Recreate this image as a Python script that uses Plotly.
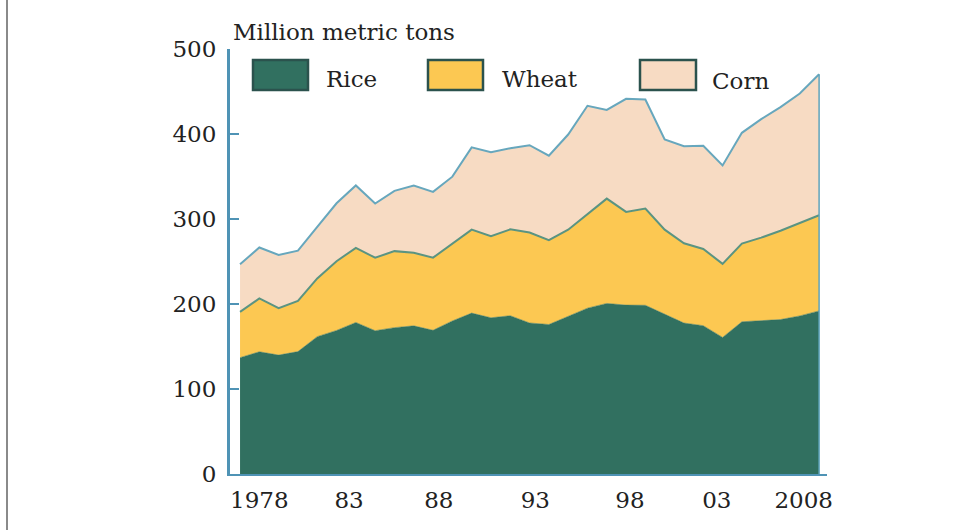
import plotly.graph_objects as go

# China grain output, million metric tons
YEARS = list(range(1978, 2009))
RICE = [136.9, 143.8, 139.9, 144.0, 161.6, 168.9, 178.3, 168.6, 172.2, 174.3,
        169.1, 180.1, 189.3, 183.8, 186.2, 177.7, 175.9, 185.2, 195.1, 200.7,
        198.7, 198.5, 187.9, 177.6, 174.5, 160.7, 179.1, 180.6, 181.7, 186.0, 191.9]
WHEAT = [53.8, 62.7, 55.2, 59.6, 68.5, 81.4, 87.8, 85.8, 90.0, 85.9,
         85.4, 90.8, 98.2, 96.0, 101.6, 106.4, 99.3, 102.2, 110.6, 123.3,
         109.7, 113.9, 99.6, 93.9, 90.3, 86.5, 92.0, 97.5, 104.5, 109.3, 112.5]
CORN = [56.0, 60.0, 62.6, 59.2, 60.6, 68.2, 73.4, 63.8, 70.9, 79.2,
        77.4, 78.9, 96.8, 98.8, 95.4, 102.7, 99.3, 112.0, 127.5, 104.3,
        133.0, 128.1, 106.0, 114.1, 121.3, 115.8, 130.3, 139.4, 145.5, 152.3, 165.9]

SERIES = ["Rice", "Wheat", "Corn"]
Y_TICKS = [0, 100, 200, 300, 400, 500]
X_TICKTEXT = ["1978", "83", "88", "93", "98", "03", "2008"]
UNIT_LABEL = "Million metric tons"

FILLS = {"Rice": "#317060", "Wheat": "#fcc852", "Corn": "#f7dbc3"}
EDGES = {"Rice": "#317060", "Wheat": "#5a9482", "Corn": "#67a7bd"}
AXIS_BLUE = "#4f93b5"
FONT = "DejaVu Serif"
TEXT = "#222222"

W, H = 974, 530
ML, MR, MT, MB = 230, 147, 49, 56
PW, PH = W - ML - MR, H - MT - MB


def px_x(px):
    return (px - ML) / PW


def px_y(py):
    return 1 - (py - MT) / PH


fig = go.Figure()
for name, vals in zip(SERIES, [RICE, WHEAT, CORN]):
    fig.add_trace(go.Scatter(
        x=YEARS, y=vals, name=name, mode="lines",
        stackgroup="grain", fillcolor=FILLS[name],
        line=dict(color=EDGES[name], width=2 if name != "Rice" else 0.5),
        showlegend=False,
    ))

# closing edge at the last year
total_last = RICE[-1] + WHEAT[-1] + CORN[-1]
fig.add_trace(go.Scatter(
    x=[YEARS[-1], YEARS[-1]], y=[0, total_last], mode="lines",
    line=dict(color="#5fa3ba", width=1.5), showlegend=False, hoverinfo="skip",
))

# legend drawn as boxed swatches with labels
shapes = []
annotations = []
legend_items = [("Rice", 253, 308, 324, 79), ("Wheat", 428, 483, 500, 79),
                ("Corn", 640, 696, 710, 81)]
for name, x0, x1, tx, ty in legend_items:
    shapes.append(dict(type="rect", xref="paper", yref="paper",
                       x0=px_x(x0), x1=px_x(x1), y0=px_y(90), y1=px_y(60),
                       fillcolor=FILLS[name], line=dict(color="#2b524d", width=2.5)))
    annotations.append(dict(text=name, xref="paper", yref="paper",
                            x=px_x(tx), y=px_y(ty), xanchor="left", yanchor="middle",
                            showarrow=False, font=dict(family=FONT, size=23, color=TEXT)))

annotations.append(dict(text=UNIT_LABEL, xref="paper", yref="paper",
                        x=px_x(231), y=px_y(32), xanchor="left", yanchor="middle",
                        showarrow=False, font=dict(family=FONT, size=23, color=TEXT)))

# page rule on the left
shapes.append(dict(type="line", xref="paper", yref="paper",
                   x0=px_x(7), x1=px_x(7), y0=px_y(H), y1=px_y(0),
                   line=dict(color="#8a8a8a", width=2)))

fig.update_layout(
    width=W, height=H,
    margin=dict(l=ML, r=MR, t=MT, b=MB, pad=0),
    paper_bgcolor="white", plot_bgcolor="white",
    shapes=shapes, annotations=annotations,
    font=dict(family=FONT, size=23, color=TEXT),
    xaxis=dict(
        range=[1977.48, 2008.41], showgrid=False, zeroline=False,
        showline=True, linecolor=AXIS_BLUE, linewidth=2,
        ticks="", tickvals=[1979.0, 1983.65, 1988.3, 1993.3, 1998.2, 2002.7, 2007.2],
        ticktext=X_TICKTEXT, ticklabelstandoff=4,
        tickfont=dict(family=FONT, size=23, color=TEXT),
    ),
    yaxis=dict(
        range=[0, 500], showgrid=False, zeroline=False,
        showline=True, linecolor=AXIS_BLUE, linewidth=3,
        ticks="inside", ticklen=9, tickwidth=2, tickcolor=AXIS_BLUE,
        tickvals=Y_TICKS, ticklabelstandoff=6,
        tickfont=dict(family=FONT, size=23, color=TEXT),
    ),
)

fig.write_html("out.html")
